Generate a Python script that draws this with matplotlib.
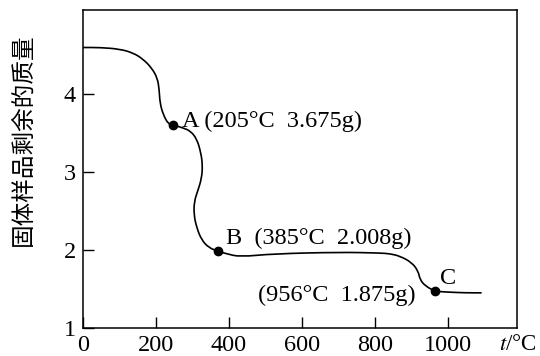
import matplotlib.pyplot as plt
from matplotlib.path import Path
from matplotlib.patches import PathPatch

plt.rcParams['font.family'] = ['Liberation Serif', 'DejaVu Serif']
plt.rcParams['mathtext.fontset'] = 'stix'

# curve (temperature in °C, remaining mass in g)
temp = [0, 47, 101, 138, 165, 188, 204, 209, 211, 220, 234, 246,
        275, 295, 312, 323, 328, 325, 315, 305, 304, 312, 325, 344, 371,
        394, 430, 522, 705, 814, 842, 869, 901, 919, 924, 938, 965,
        997, 1047, 1093]
mass = [4.59, 4.59, 4.57, 4.52, 4.44, 4.33, 4.20, 4.05, 3.88, 3.73, 3.61, 3.60,
        3.56, 3.52, 3.42, 3.25, 3.08, 2.91, 2.76, 2.62, 2.45, 2.28, 2.13, 2.03, 1.98,
        1.95, 1.91, 1.95, 1.97, 1.96, 1.95, 1.92, 1.84, 1.73, 1.62, 1.54, 1.47,
        1.46, 1.45, 1.45]

# marked points
pt_temp = [246, 371, 965]
pt_mass = [3.60, 1.98, 1.47]
pt_names = ['A', 'B', 'C']
pt_notes = ['(205°C  3.675g)', '(385°C  2.008g)', '(956°C  1.875g)']

xticks = [0, 200, 400, 600, 800, 1000]
yticks = [1, 2, 3, 4]

fig = plt.figure(figsize=(5.4, 3.56), dpi=100)
ax = fig.add_axes([0.1537, 0.0787, 0.8037, 0.8932])

# smooth hand-drawn-like curve: quadratic segments through midpoints
pts = list(zip(temp, mass))
verts = [pts[0], ((pts[0][0] + pts[1][0]) / 2, (pts[0][1] + pts[1][1]) / 2)]
codes = [Path.MOVETO, Path.LINETO]
for i in range(1, len(pts) - 1):
    mid = ((pts[i][0] + pts[i + 1][0]) / 2, (pts[i][1] + pts[i + 1][1]) / 2)
    verts += [pts[i], mid]
    codes += [Path.CURVE3, Path.CURVE3]
verts.append(pts[-1])
codes.append(Path.LINETO)
ax.add_patch(PathPatch(Path(verts, codes), fill=False, edgecolor='black', lw=1.2))

ax.plot(pt_temp, pt_mass, 'o', color='black', ms=6)

fs = 17.5
ax.text(271, 3.65, pt_names[0] + ' ' + pt_notes[0], fontsize=fs, va='center')
ax.text(392, 2.15, pt_names[1] + '  ' + pt_notes[1], fontsize=fs, va='center')
ax.text(979, 1.63, pt_names[2], fontsize=fs, va='center')
ax.text(481, 1.42, pt_notes[2], fontsize=fs, va='center')

ax.set_xlim(0, 1190)
ax.set_ylim(1, 5.07)
ax.set_xticks(xticks)
ax.set_yticks(yticks)
ax.tick_params(direction='in', length=8, width=1, labelsize=fs, pad=5,
               top=False, right=False)
for s in ax.spines.values():
    s.set_linewidth(1.1)

ax.text(0.958, -0.02, r'$t$/°C', transform=ax.transAxes, fontsize=16.5,
        ha='left', va='top')
fig.text(23 / 540, 1 - 140 / 356, '固体样品剩余的质量', rotation=90,
         fontsize=17, ha='center', va='center',
         family=['Noto Sans CJK SC', 'DejaVu Sans'])

fig.savefig('out.png', dpi=100)
